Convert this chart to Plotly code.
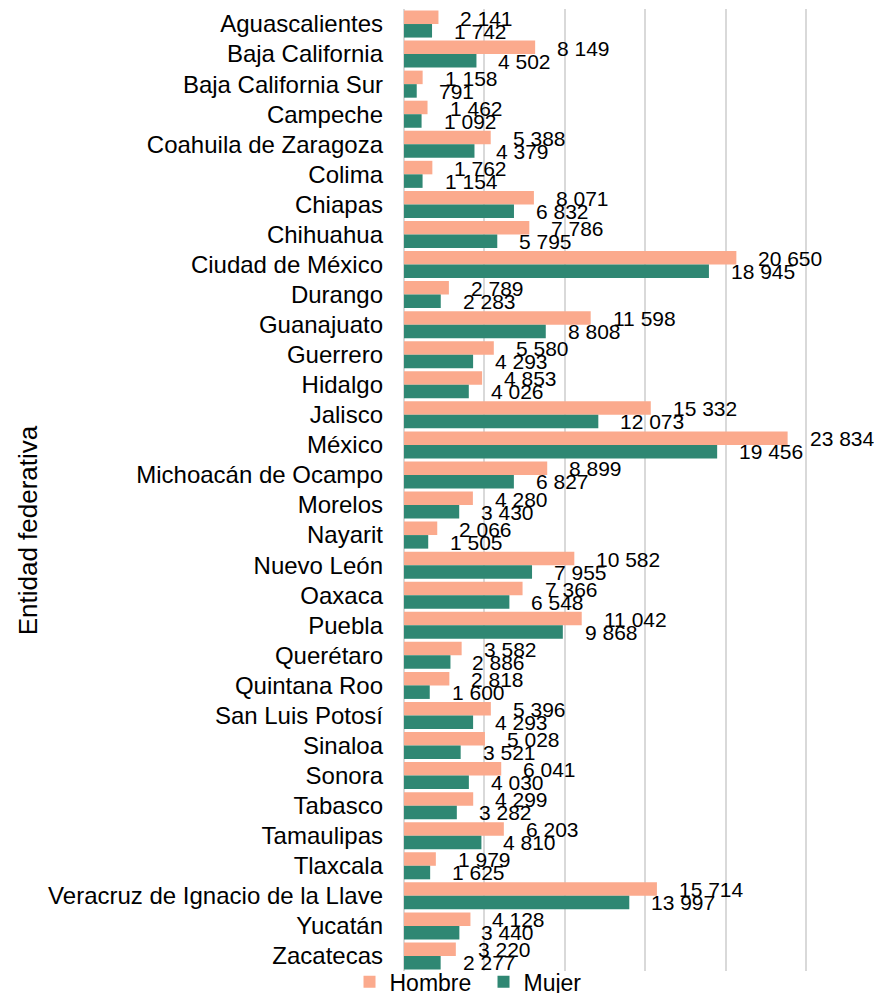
import plotly.graph_objects as go

categories = ["Aguascalientes", "Baja California", "Baja California Sur", "Campeche",
              "Coahuila de Zaragoza", "Colima", "Chiapas", "Chihuahua", "Ciudad de México",
              "Durango", "Guanajuato", "Guerrero", "Hidalgo", "Jalisco", "México",
              "Michoacán de Ocampo", "Morelos", "Nayarit", "Nuevo León", "Oaxaca", "Puebla",
              "Querétaro", "Quintana Roo", "San Luis Potosí", "Sinaloa", "Sonora", "Tabasco",
              "Tamaulipas", "Tlaxcala", "Veracruz de Ignacio de la Llave", "Yucatán", "Zacatecas"]

hombre = [2141, 8149, 1158, 1462, 5388, 1762, 8071, 7786, 20650, 2789, 11598, 5580, 4853,
          15332, 23834, 8899, 4280, 2066, 10582, 7366, 11042, 3582, 2818, 5396, 5028, 6041,
          4299, 6203, 1979, 15714, 4128, 3220]

mujer = [1742, 4502, 791, 1092, 4379, 1154, 6832, 5795, 18945, 2283, 8808, 4293, 4026,
         12073, 19456, 6827, 3430, 1505, 7955, 6548, 9868, 2886, 1600, 4293, 3521, 4030,
         3282, 4810, 1625, 13997, 3440, 2277]

C_H = "#FBAA8D"
C_M = "#2F8773"
FONT = "Liberation Sans, Arial, sans-serif"

# page body margin of 8px is compensated in the margins below
W, H = 882, 993
OFF = 8
X_MAX = 25100
ML = 403.5 - OFF
MT = 9.3 - OFF
plot_w = 402.5 * X_MAX / 25000
plot_h = 962
MR = W - ML - plot_w
MB = H - MT - plot_h

fig = go.Figure()
fig.add_trace(go.Bar(y=categories, x=hombre, name="Hombre", orientation="h",
                     marker=dict(color=C_H, line=dict(width=0))))
fig.add_trace(go.Bar(y=categories, x=mujer, name="Mujer", orientation="h",
                     marker=dict(color=C_M, line=dict(width=0))))


def fmt(v):
    return f"{v:,}".replace(",", " ")


annotations = []
for c, h, m in zip(categories, hombre, mujer):
    annotations.append(dict(x=h, y=c, xref="x", yref="y", text=fmt(h), showarrow=False,
                            xanchor="left", yanchor="middle", xshift=20, yshift=6,
                            font=dict(size=21, color="#000000", family=FONT)))
    annotations.append(dict(x=m, y=c, xref="x", yref="y", text=fmt(m), showarrow=False,
                            xanchor="left", yanchor="middle", xshift=20, yshift=-7,
                            font=dict(size=21, color="#000000", family=FONT)))

annotations.append(dict(x=(27 - 403.5) / plot_w, y=(971.3 - 531) / plot_h,
                        xref="paper", yref="paper",
                        text="Entidad federativa", textangle=-90, showarrow=False,
                        xanchor="center", yanchor="middle",
                        font=dict(size=26, color="#000000", family=FONT)))

fig.update_layout(
    width=W, height=H,
    margin=dict(l=ML, r=MR, t=MT, b=MB, autoexpand=False),
    paper_bgcolor="white", plot_bgcolor="white",
    barmode="group", bargap=0.1, bargroupgap=0,
    font=dict(family=FONT, size=24, color="#000000"),
    showlegend=True,
    legend=dict(orientation="h", x=(349 - 403.5) / plot_w, xanchor="left",
                y=0.011, yanchor="top", font=dict(size=23, color="#000000"),
                entrywidth=89, entrywidthmode="pixels",
                bgcolor="rgba(0,0,0,0)", traceorder="normal"),
    annotations=annotations,
)
fig.update_xaxes(range=[0, X_MAX], dtick=5000, showgrid=True, gridcolor="#D9D9D9",
                 gridwidth=2, zeroline=True, zerolinecolor="#D9D9D9", zerolinewidth=2,
                 showticklabels=False, ticks="", showline=False)
fig.update_yaxes(categoryorder="array", categoryarray=categories,
                 range=[len(categories) - 0.5, -0.5], autorange=False,
                 ticks="", ticklabelstandoff=20, showgrid=False, showline=False,
                 tickfont=dict(size=24, color="#000000", family=FONT))

fig.write_html("out.html")
